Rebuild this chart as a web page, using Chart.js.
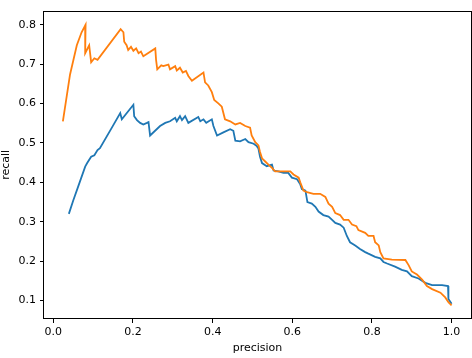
<!DOCTYPE html>
<html>
<head>
<meta charset="utf-8">
<script src="https://cdn.jsdelivr.net/npm/chart.js@4/dist/chart.umd.min.js"></script>
<style>
  html, body { margin: 0; padding: 0; background: #fff; }
  #wrap { width: 472px; height: 358px; }
</style>
</head>
<body>
<div id="wrap"><canvas id="prChart" width="472" height="358"></canvas></div>
<script>
// tick labels
const xTicks = [0.0, 0.2, 0.4, 0.6, 0.8, 1.0];
const yTicks = [0.1, 0.2, 0.3, 0.4, 0.5, 0.6, 0.7, 0.8];

// blue series
const bluePrecision = [0.039, 0.050, 0.063, 0.080, 0.085, 0.095, 0.103, 0.111, 0.117, 0.147,
  0.168, 0.172, 0.201, 0.203, 0.210, 0.218, 0.226, 0.235, 0.239, 0.243,
  0.268, 0.281, 0.293, 0.306, 0.310, 0.318, 0.323, 0.331, 0.339, 0.364,
  0.369, 0.377, 0.384, 0.398, 0.402, 0.411, 0.427, 0.444, 0.452, 0.457,
  0.469, 0.482, 0.490, 0.503, 0.511, 0.515, 0.519, 0.524, 0.536, 0.549,
  0.553, 0.565, 0.578, 0.590, 0.599, 0.612, 0.620, 0.624, 0.633, 0.638,
  0.649, 0.658, 0.666, 0.678, 0.691, 0.700, 0.708, 0.720, 0.729, 0.737,
  0.745, 0.758, 0.770, 0.783, 0.791, 0.808, 0.821, 0.829, 0.838, 0.858,
  0.875, 0.888, 0.900, 0.917, 0.934, 0.951, 0.976, 0.991, 0.992, 1.000];
const blueRecall = [0.320, 0.354, 0.391, 0.440, 0.449, 0.465, 0.469, 0.482, 0.487, 0.539,
  0.576, 0.560, 0.597, 0.568, 0.558, 0.551, 0.547, 0.551, 0.553, 0.519,
  0.543, 0.551, 0.555, 0.564, 0.555, 0.568, 0.558, 0.568, 0.551, 0.566,
  0.555, 0.560, 0.551, 0.560, 0.543, 0.519, 0.527, 0.535, 0.531, 0.506,
  0.504, 0.510, 0.502, 0.498, 0.492, 0.486, 0.465, 0.449, 0.441, 0.445,
  0.430, 0.428, 0.424, 0.424, 0.412, 0.408, 0.395, 0.383, 0.379, 0.350,
  0.346, 0.338, 0.326, 0.317, 0.313, 0.305, 0.297, 0.293, 0.285, 0.264,
  0.248, 0.240, 0.231, 0.223, 0.219, 0.211, 0.207, 0.198, 0.194, 0.186,
  0.178, 0.174, 0.162, 0.156, 0.145, 0.139, 0.139, 0.137, 0.104, 0.092];

// orange series
const orangePrecision = [0.024, 0.042, 0.059, 0.071, 0.081, 0.080, 0.090, 0.095, 0.103, 0.111,
  0.169, 0.176, 0.178, 0.184, 0.188, 0.195, 0.201, 0.208, 0.214, 0.220,
  0.226, 0.256, 0.258, 0.261, 0.271, 0.276, 0.289, 0.293, 0.306, 0.310,
  0.318, 0.325, 0.333, 0.339, 0.348, 0.377, 0.381, 0.389, 0.398, 0.404,
  0.415, 0.423, 0.431, 0.444, 0.457, 0.469, 0.482, 0.494, 0.498, 0.507,
  0.515, 0.519, 0.524, 0.532, 0.540, 0.549, 0.557, 0.574, 0.595, 0.603,
  0.616, 0.620, 0.628, 0.637, 0.653, 0.670, 0.683, 0.691, 0.700, 0.708,
  0.720, 0.729, 0.741, 0.750, 0.761, 0.766, 0.783, 0.791, 0.804, 0.808,
  0.817, 0.821, 0.829, 0.850, 0.884, 0.892, 0.900, 0.913, 0.926, 0.938,
  0.951, 0.972, 0.984, 0.992, 1.000];
const orangeRecall = [0.555, 0.674, 0.748, 0.781, 0.800, 0.728, 0.748, 0.705, 0.715, 0.711,
  0.789, 0.781, 0.757, 0.748, 0.736, 0.744, 0.734, 0.740, 0.728, 0.732,
  0.720, 0.740, 0.711, 0.687, 0.697, 0.695, 0.699, 0.687, 0.695, 0.684,
  0.691, 0.679, 0.683, 0.670, 0.658, 0.679, 0.654, 0.646, 0.629, 0.609,
  0.600, 0.592, 0.560, 0.555, 0.547, 0.551, 0.543, 0.539, 0.519, 0.502,
  0.494, 0.477, 0.461, 0.453, 0.445, 0.437, 0.428, 0.428, 0.428, 0.420,
  0.412, 0.400, 0.379, 0.375, 0.371, 0.371, 0.363, 0.346, 0.338, 0.322,
  0.317, 0.305, 0.305, 0.293, 0.289, 0.279, 0.272, 0.264, 0.264, 0.248,
  0.240, 0.223, 0.207, 0.204, 0.203, 0.190, 0.174, 0.166, 0.153, 0.137,
  0.129, 0.120, 0.108, 0.096, 0.088];

function toPoints(xs, ys) {
  return xs.map(function (x, i) { return { x: x, y: ys[i] }; });
}

// full box around the plot area, like the reference
const frameBox = {
  id: "frameBox",
  afterDraw: function (chart) {
    const a = chart.chartArea;
    const ctx = chart.ctx;
    ctx.save();
    ctx.strokeStyle = "#000";
    ctx.lineWidth = 1;
    ctx.strokeRect(Math.round(a.left) - 0.5, Math.round(a.top) + 0.5,
      Math.round(a.right - a.left) + 1, Math.round(a.bottom - a.top) - 1);
    ctx.restore();
  }
};

const font = { family: "'DejaVu Sans', sans-serif", size: 11 };

new Chart(document.getElementById("prChart"), {
  type: "scatter",
  data: {
    datasets: [
      {
        label: "orange",
        data: toPoints(orangePrecision, orangeRecall),
        showLine: true,
        borderColor: "#ff7f0e",
        borderWidth: 1.8,
        pointRadius: 0,
        order: 0,
      },
      {
        label: "blue",
        data: toPoints(bluePrecision, blueRecall),
        showLine: true,
        borderColor: "#1f77b4",
        borderWidth: 1.8,
        pointRadius: 0,
        order: 1,
      },
    ],
  },
  options: {
    responsive: false,
    animation: false,
    layout: { padding: { top: 1, right: 1, left: 0, bottom: 0 } },
    plugins: { legend: { display: false }, tooltip: { enabled: false } },
    scales: {
      x: {
        type: "linear",
        min: -0.0234,
        max: 1.0487,
        afterBuildTicks: function (s) { s.ticks = xTicks.map(function (v) { return { value: v }; }); },
        afterFit: function (s) { s.height = 39; },
        grid: { drawOnChartArea: false, color: "#000", tickLength: 4 },
        border: { display: false },
        ticks: { color: "#000", font: font, padding: 3, maxRotation: 0, callback: function (v) { return v.toFixed(1); } },
        title: { display: true, text: "precision", color: "#000", font: font, padding: { top: 0, bottom: 3 } },
      },
      y: {
        type: "linear",
        min: 0.0532,
        max: 0.836,
        afterBuildTicks: function (s) { s.ticks = yTicks.map(function (v) { return { value: v }; }); },
        afterFit: function (s) { s.width = 44; },
        grid: { drawOnChartArea: false, color: "#000", tickLength: 4 },
        border: { display: false },
        ticks: { color: "#000", font: font, padding: 4, callback: function (v) { return v.toFixed(1); } },
        title: { display: true, text: "recall", color: "#000", font: font, padding: { top: 0, bottom: 0 } },
      },
    },
  },
  plugins: [frameBox],
});
</script>
</body>
</html>
